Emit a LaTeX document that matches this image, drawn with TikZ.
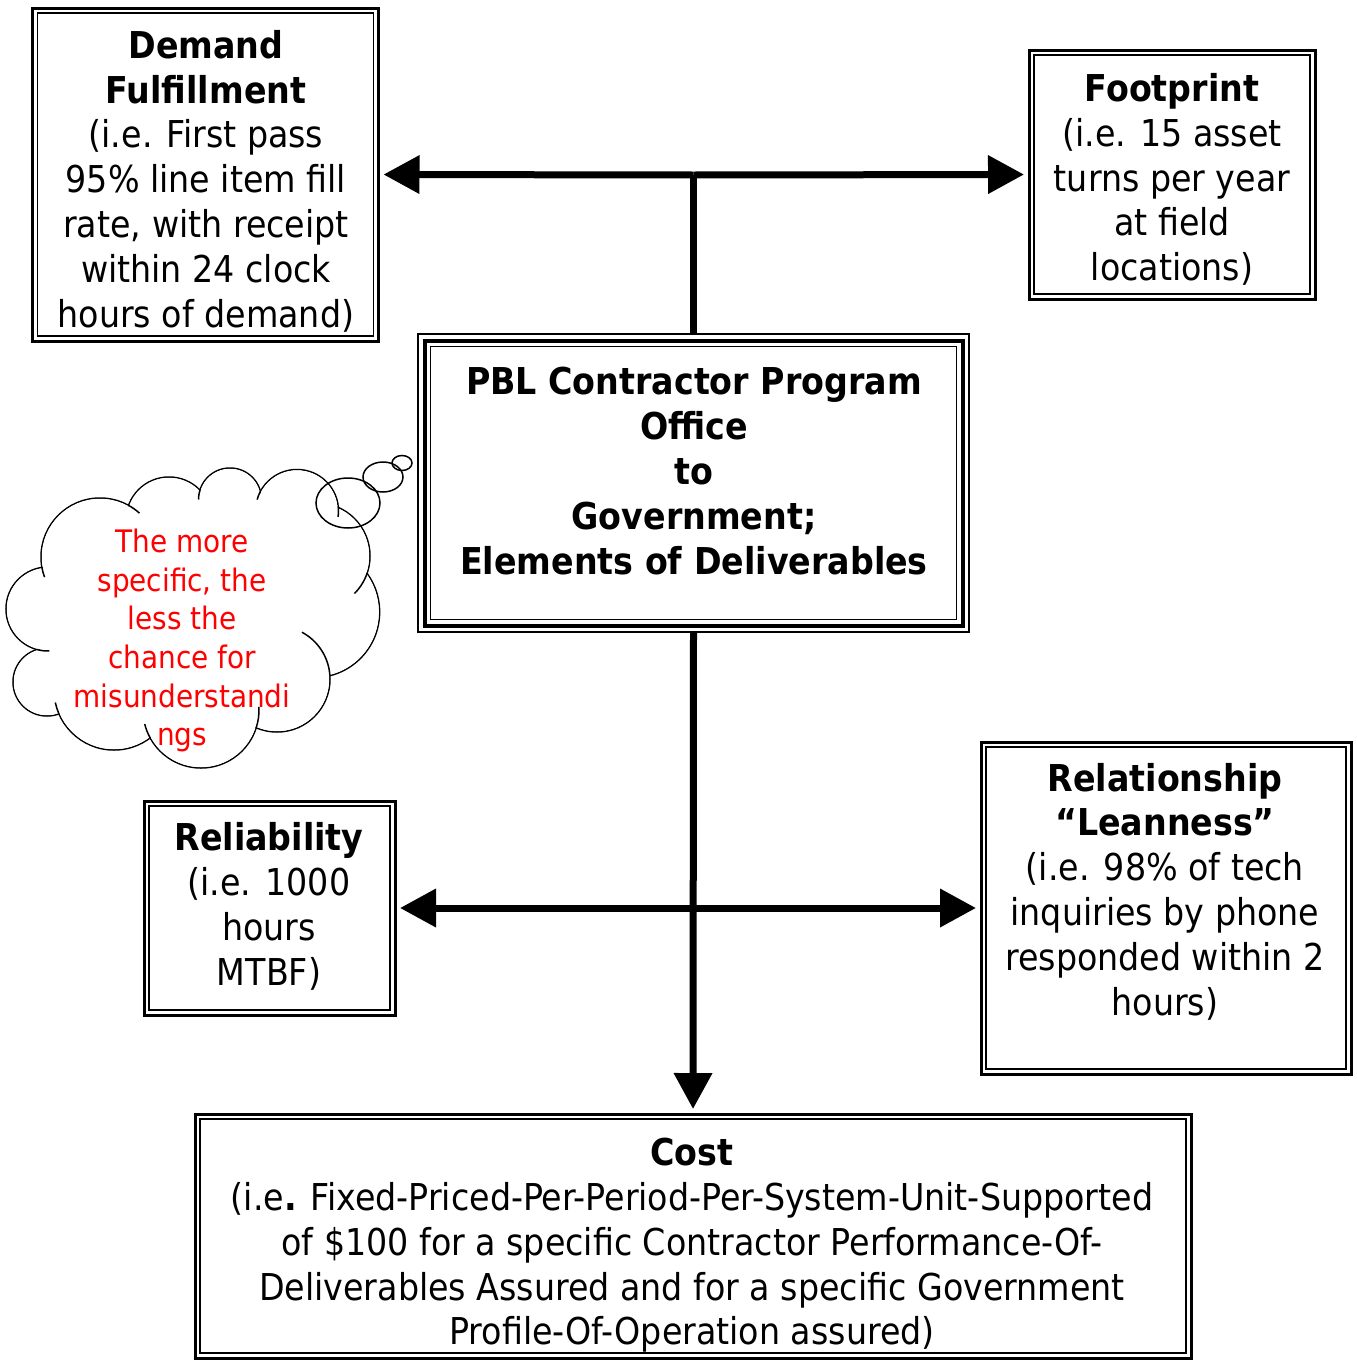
\documentclass[tikz,border=0pt]{standalone}
\usepackage{fontspec}
\setmainfont{DejaVu Sans Condensed}[BoldFont={DejaVu Sans Condensed Bold}]
\usetikzlibrary{arrows.meta}
\begin{document}
\begin{tikzpicture}[x=1pt,y=-1pt,
  outerbox/.style={draw, line width=3pt, inner sep=0pt, outer sep=0pt},
  innerline/.style={line width=1.5pt},
  txt/.style={align=center, inner sep=0pt, font=\fontsize{37}{44.8}\selectfont},
  cloudtxt/.style={align=center, inner sep=0pt, text=red, font=\fontsize{31}{38.7}\selectfont},
  conn/.style={line width=7pt},
  arr/.style={conn, -{Triangle[length=36pt,width=37pt]}, shorten >=5pt},
  cloudline/.style={line width=1.5pt},
]
\useasboundingbox (0,0) rectangle (1357,1360);

% boxes
\node[outerbox, minimum width=346, minimum height=333] (demand) at (205.5,174.5) {};
\node[outerbox, minimum width=286, minimum height=249] (foot) at (1172,174.5) {};
\node[outerbox, line width=2pt, minimum width=551, minimum height=298] (central) at (693.5,483) {};
\node[outerbox, minimum width=251, minimum height=214] (rel) at (269.5,908) {};
\node[outerbox, minimum width=370, minimum height=332] (lean) at (1166,908) {};
\node[outerbox, minimum width=996, minimum height=244] (cost) at (693,1236) {};

\foreach \n in {demand,foot,rel,lean,cost}
  \draw[innerline] ([shift={(5,5)}]\n.north west) rectangle ([shift={(-5,-5)}]\n.south east);
\draw[line width=4pt] ([shift={(6.5,6.5)}]central.north west) rectangle ([shift={(-6.5,-6.5)}]central.south east);
\draw[innerline] ([shift={(12.5,12.5)}]central.north west) rectangle ([shift={(-12.5,-12.5)}]central.south east);

% texts
\node[txt] (demand-t) at (206,181) {\textbf{Demand}\\\textbf{Fulfillment}\\(i.e. First pass\\95\% line item fill\\rate, with receipt\\within 24 clock\\hours of demand)};
\node[txt] (foot-t) at (1172,179.5) {\textbf{Footprint}\\(i.e. 15 asset\\turns per year\\at field\\locations)};
\node[txt] (central-t) at (694,471) {\textbf{PBL Contractor Program}\\\textbf{Office}\\\textbf{to}\\\textbf{Government;}\\\textbf{Elements of Deliverables}};
\node[txt] (rel-t) at (269,906.5) {\textbf{Reliability}\\(i.e. 1000\\hours\\MTBF)};
\node[txt] (lean-t) at (1165,891.5) {\textbf{Relationship}\\\textbf{“Leanness”}\\(i.e. 98\% of tech\\inquiries by phone\\responded within 2\\hours)};
\node[txt] (cost-t) at (692,1245.5) {\textbf{Cost}\\(i.e\textbf{.} Fixed-Priced-Per-Period-Per-System-Unit-Supported\\of \$100 for a specific Contractor Performance-Of-\\Deliverables Assured and for a specific Government\\Profile-Of-Operation assured)};

% connectors
\coordinate (jt) at (693.5,175);
\coordinate (jb) at (693.5,908);
\draw[conn] (central.north) -- (jt);
\draw[arr] (jt) -- (demand.east);
\draw[arr] (jt) -- (foot.west);
\draw[arr] (jb) -- (rel.east);
\draw[arr] (jb) -- (lean.west);
\draw[arr] (central.south) -- (cost.north);

% cloud callout
\def\puffs{100/557/59, 169/520/43, 230/499.5/31.5, 297/511/41.5, 317/556/53, 314/612/65.6, 277/679/53, 201/710/58, 114/690/60, 47/682/34, 48/609/42}
\foreach \x/\y/\r in \puffs \draw[cloudline] (\x,\y) circle[radius=\r];
\foreach \x/\y/\r in \puffs \fill[white] (\x,\y) circle[radius=\r-0.8];
\fill[white] (100,557) -- (169,520) -- (230,499.5) -- (297,511) -- (317,556) -- (314,612) -- (277,679) -- (201,710) -- (114,690) -- (47,682) -- (48,609) -- cycle;
% inner arcs of the cloud
\foreach \x/\y/\r/\a/\b in {100/557/59/-61/-48, 230/499.5/31.5/197/180, 297/511/41.5/208/196, 297/511/41.5/-5/8, 317/556/53/19/45, 277/679/53/-4/-62, 201/710/58/18/-3, 201/710/58/151/166, 114/690/60/157/168, 48/609/42/105/88, 100/557/59/170/160}
  \draw[cloudline] (\x,\y) ++(\a:\r) arc[start angle=\a, end angle=\b, radius=\r];
\draw[cloudline] (348,503) ellipse[x radius=32, y radius=25];
\draw[cloudline] (383,477) ellipse[x radius=20, y radius=15];
\draw[cloudline] (402,463) ellipse[x radius=10, y radius=7.5];
\node[cloudtxt] (cloud-t) at (182,640.5) {The more\\specific, the\\less the\\chance for\\misunderstandi\\ngs};
\end{tikzpicture}
\end{document}
